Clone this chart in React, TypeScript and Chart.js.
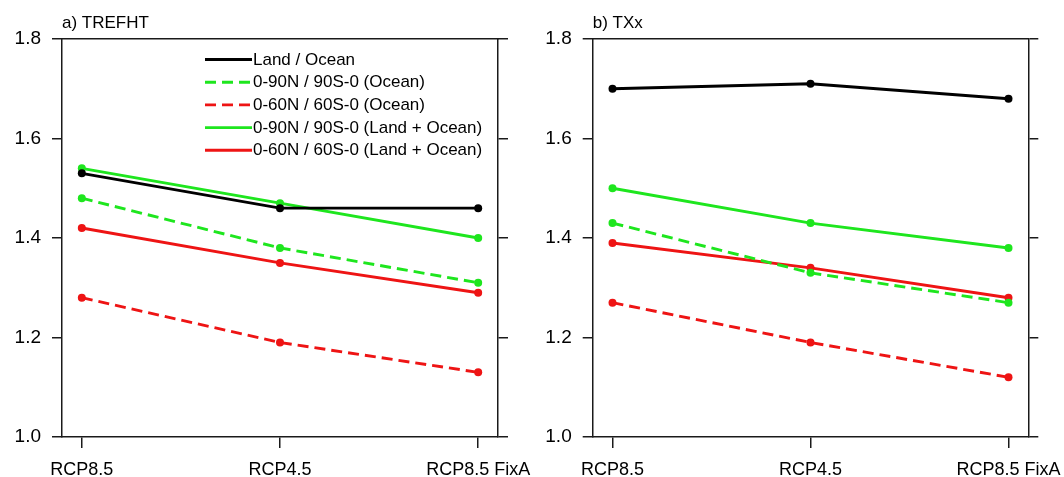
import React, { useEffect, useRef } from "react";
import { Chart, registerables } from "chart.js";

Chart.register(...registerables);

// ---------- data ----------
const categories = ["RCP8.5", "RCP4.5", "RCP8.5 FixA"];
const yTicks = [1.0, 1.2, 1.4, 1.6, 1.8];
const seriesLabels = [
  "Land / Ocean",
  "0-90N / 90S-0 (Ocean)",
  "0-60N / 60S-0 (Ocean)",
  "0-90N / 90S-0 (Land + Ocean)",
  "0-60N / 60S-0 (Land + Ocean)",
];

// a) TREFHT
const trefhtLandOcean = [1.53, 1.46, 1.46];
const trefht90Ocean = [1.48, 1.38, 1.31];
const trefht60Ocean = [1.28, 1.19, 1.13];
const trefht90LandOcean = [1.54, 1.47, 1.4];
const trefht60LandOcean = [1.42, 1.35, 1.29];

// b) TXx
const txxLandOcean = [1.7, 1.71, 1.68];
const txx90Ocean = [1.43, 1.33, 1.27];
const txx60Ocean = [1.27, 1.19, 1.12];
const txx90LandOcean = [1.5, 1.43, 1.38];
const txx60LandOcean = [1.39, 1.34, 1.28];

// ---------- styles ----------
const GREEN = "#1ee61e";
const RED = "#ee1414";
const seriesColors = ["#000000", GREEN, RED, GREEN, RED];
const seriesDash: number[][] = [[], [11, 6], [11, 6], [], []];
const FONT = '"Liberation Sans", Arial, Helvetica, sans-serif';
const FRAME = "#1a1a1a";

const overlayPlugin = {
  id: "overlay",
  afterDraw(chart: any, _args: any, opts: any) {
    const ctx = chart.ctx;
    const a = chart.chartArea;
    ctx.save();
    ctx.fillStyle = "#000";
    ctx.font = `17px ${FONT}`;
    ctx.textAlign = "left";
    ctx.textBaseline = "alphabetic";
    ctx.fillText(opts.title, a.left, a.top - 11.3);
    if (opts.legend) {
      chart.data.datasets.forEach((ds: any, i: number) => {
        const y = a.top + 20.5 + i * 22.7;
        const x0 = a.left + 143;
        ctx.strokeStyle = ds.borderColor;
        ctx.lineWidth = ds.borderWidth;
        ctx.setLineDash(ds.borderDash || []);
        ctx.beginPath();
        ctx.moveTo(x0, y);
        ctx.lineTo(x0 + 47, y);
        ctx.stroke();
        ctx.setLineDash([]);
        ctx.textBaseline = "middle";
        ctx.fillText(ds.label, x0 + 48, y + 0.5);
      });
    }
    ctx.restore();
  },
};

function makeConfig(
  values: number[][],
  title: string,
  legend: boolean,
  canvasWidth: number,
  canvasHeight: number,
  areaLeft: number,
  areaRight: number,
  areaTop: number,
  areaBottom: number
): any {
  const border = { display: true, color: FRAME, width: 1.5 };
  return {
    type: "line",
    data: {
      datasets: values.map((vals, i) => ({
        label: seriesLabels[i],
        data: vals.map((v, j) => ({ x: j, y: v })),
        borderColor: seriesColors[i],
        backgroundColor: seriesColors[i],
        borderDash: seriesDash[i],
        borderWidth: 2.9,
        pointRadius: 4,
        pointHoverRadius: 4,
        pointBorderWidth: 0,
        tension: 0,
        fill: false,
        xAxisID: "x",
        yAxisID: "y",
      })),
    },
    options: {
      responsive: false,
      animation: false,
      events: [],
      layout: { padding: 0 },
      plugins: {
        legend: { display: false },
        tooltip: { enabled: false },
        overlay: { title, legend },
      },
      scales: {
        x: {
          type: "linear",
          position: "bottom",
          min: -0.1,
          max: 2.1,
          afterBuildTicks: (ax: any) => {
            ax.ticks = categories.map((_, i) => ({ value: i }));
          },
          afterFit: (ax: any) => {
            ax.height = canvasHeight - areaBottom;
          },
          ticks: {
            callback: (_v: any, i: number) => categories[i],
            font: { family: FONT, size: 18 },
            color: "#000",
            padding: 11,
            maxRotation: 0,
            autoSkip: false,
          },
          grid: { drawOnChartArea: false, drawTicks: true, tickLength: 11, color: FRAME, lineWidth: 1.5 },
          border,
        },
        xTop: {
          type: "linear",
          position: "top",
          min: -0.1,
          max: 2.1,
          ticks: { display: false },
          grid: { display: false },
          border,
          afterFit: (ax: any) => {
            ax.height = areaTop;
          },
        },
        y: {
          type: "linear",
          position: "left",
          min: 1.0,
          max: 1.8,
          afterBuildTicks: (ax: any) => {
            ax.ticks = yTicks.map((v) => ({ value: v }));
          },
          afterFit: (ax: any) => {
            ax.width = areaLeft;
          },
          ticks: {
            callback: (v: any) => Number(v).toFixed(1),
            font: { family: FONT, size: 19 },
            color: "#000",
            padding: 11,
          },
          grid: { drawOnChartArea: false, drawTicks: true, tickLength: 10, color: FRAME, lineWidth: 1.5 },
          border,
        },
        yRight: {
          type: "linear",
          position: "right",
          min: 1.0,
          max: 1.8,
          afterBuildTicks: (ax: any) => {
            ax.ticks = yTicks.map((v) => ({ value: v }));
          },
          afterFit: (ax: any) => {
            ax.width = canvasWidth - areaRight;
          },
          ticks: { display: false },
          grid: { drawOnChartArea: false, drawTicks: true, tickLength: 10, color: FRAME, lineWidth: 1.5 },
          border,
        },
      },
    },
    plugins: [overlayPlugin],
  };
}

const H = 477;
const LEFT_W = 580;
const RIGHT_W = 580;
const RIGHT_OFFSET = 530;

export default function App() {
  const leftRef = useRef<HTMLCanvasElement>(null);
  const rightRef = useRef<HTMLCanvasElement>(null);

  useEffect(() => {
    Chart.defaults.font.family = FONT;
    const c1 = new Chart(
      leftRef.current as HTMLCanvasElement,
      makeConfig(
        [trefhtLandOcean, trefht90Ocean, trefht60Ocean, trefht90LandOcean, trefht60LandOcean],
        "a) TREFHT",
        true,
        LEFT_W,
        H,
        62,
        498,
        39,
        437
      )
    );
    const c2 = new Chart(
      rightRef.current as HTMLCanvasElement,
      makeConfig(
        [txxLandOcean, txx90Ocean, txx60Ocean, txx90LandOcean, txx60LandOcean],
        "b) TXx",
        false,
        RIGHT_W,
        H,
        62.7,
        498.3,
        39,
        437
      )
    );
    return () => {
      c1.destroy();
      c2.destroy();
    };
  }, []);

  return (
    <div
      style={{
        position: "absolute",
        left: 0,
        top: 0,
        width: 1064,
        height: H,
        overflow: "hidden",
        background: "#fff",
      }}
    >
      <canvas
        ref={leftRef}
        width={LEFT_W}
        height={H}
        style={{ position: "absolute", left: 0, top: 0, width: LEFT_W, height: H }}
      />
      <canvas
        ref={rightRef}
        width={RIGHT_W}
        height={H}
        style={{ position: "absolute", left: RIGHT_OFFSET, top: 0, width: RIGHT_W, height: H }}
      />
    </div>
  );
}
